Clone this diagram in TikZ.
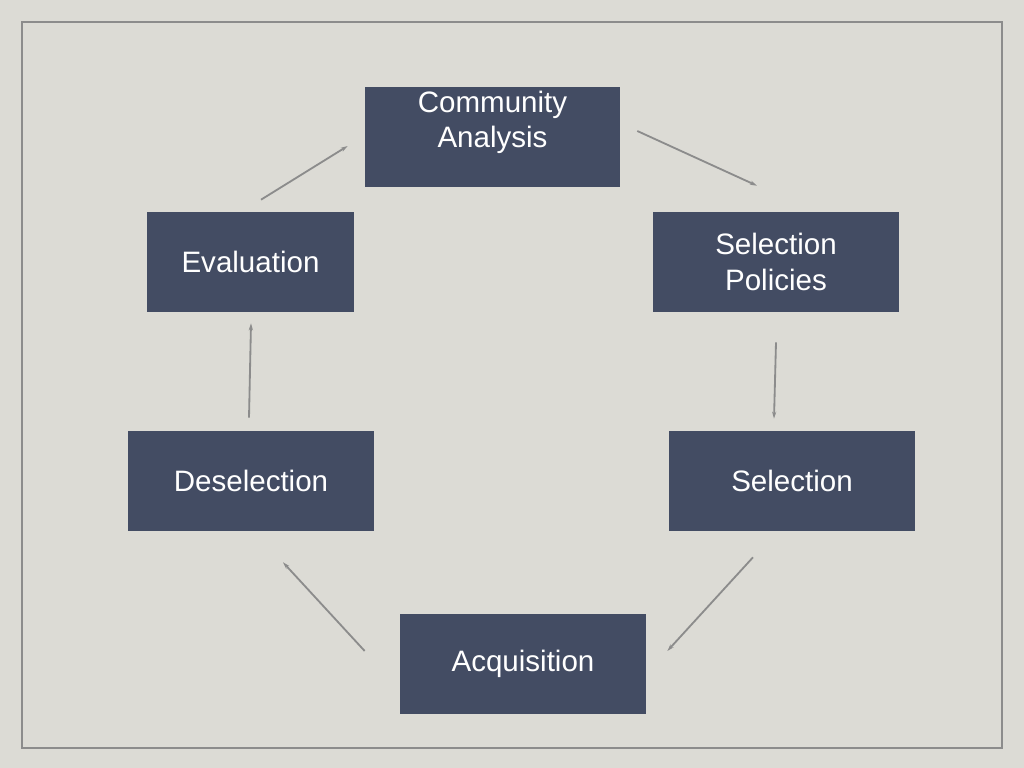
\documentclass[tikz,border=0pt]{standalone}
\usepackage{fontspec}
\setmainfont{Liberation Sans}
\usetikzlibrary{arrows.meta}
\definecolor{paper}{HTML}{DCDBD5}
\definecolor{slate}{HTML}{434C63}
\definecolor{wire}{HTML}{8C8C8C}
\begin{document}
\begin{tikzpicture}[x=0.025cm,y=-0.025cm,
    box/.style={fill=slate,text=white,align=center,inner sep=0pt,
        minimum width=6.15cm,minimum height=2.5cm,
        font=\fontsize{21}{25}\selectfont},
    arr/.style={wire,line width=1.3pt,-{Stealth[length=5pt,width=3pt]}}]
            \fill[paper] (0,0) rectangle (1024,768);
            \useasboundingbox (0,0) rectangle (1024,768);
            \draw[wire,line width=1.5pt] (22,22) rectangle (1002,748);

            \node[box,minimum width=6.375cm] (comm) at (492.5,137) {Community\\Analysis\\\mbox{}};
            \node[box,minimum width=5.175cm] (eval) at (250.5,262) {Evaluation};
            \node[box] (selpol) at (776,262) {Selection\\Policies};
            \node[box] (desel) at (251,481) {Deselection};
            \node[box] (sel) at (792,481) {Selection};
            \node[box] (acq) at (523,664) {Acquisition};

            \draw[arr] ([shift={(10.5,-12)}]eval.north) -- ([shift={(-17,9)}]comm.west);
            \draw[arr] ([shift={(17,-6)}]comm.east) -- ([shift={(-19,-26)}]selpol.north);
            \draw[arr] ([shift={(0,30)}]selpol.south) -- ([shift={(-18,-12)}]sel.north);
            \draw[arr] ([shift={(-39,26)}]sel.south) -- ([shift={(21,-13)}]acq.east);
            \draw[arr] ([shift={(-35,-13)}]acq.west) -- ([shift={(32,31)}]desel.south);
            \draw[arr] ([shift={(-2,-13)}]desel.north) -- ([shift={(0.5,11)}]eval.south);
        \end{tikzpicture}
\end{document}
